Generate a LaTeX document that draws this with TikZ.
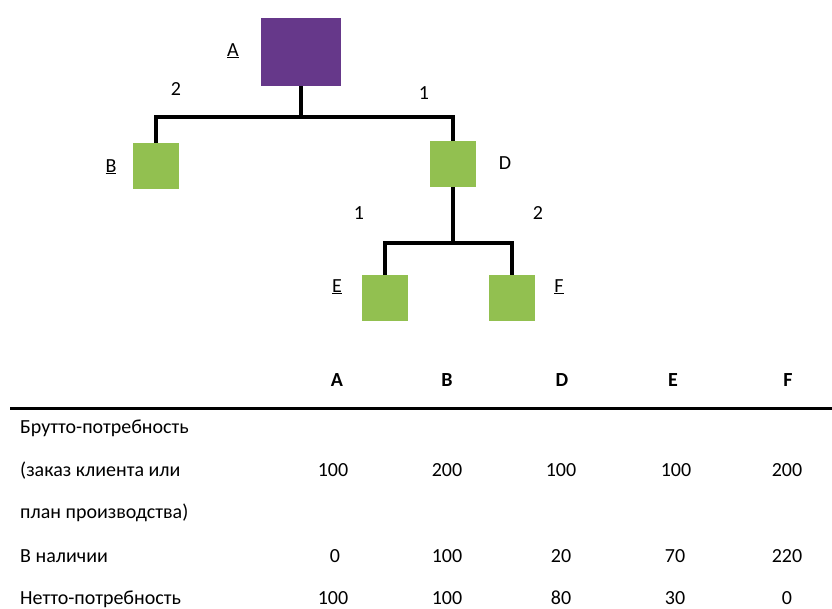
\documentclass[tikz,border=0pt]{standalone}
\usepackage{fontspec}
\setmainfont{Carlito}
\begin{document}
\begin{tikzpicture}[x=1pt,y=-1pt,
  lbl/.style={font=\fontsize{20}{24}\selectfont, inner sep=0pt, anchor=base},
  hdr/.style={font=\fontsize{20}{24}\selectfont\bfseries, inner sep=0pt, anchor=base},
  rowlbl/.style={font=\fontsize{20}{24}\selectfont, inner sep=0pt, anchor=base west},
  link/.style={line width=3.2pt, draw=black},
  greenbox/.style={fill=itemgreen, draw=none, minimum width=46pt, minimum height=46pt, inner sep=0pt},
  purplebox/.style={fill=rootpurple, draw=none, minimum width=80pt, minimum height=68pt, inner sep=0pt}]
\definecolor{itemgreen}{RGB}{146,192,80}
\definecolor{rootpurple}{RGB}{102,56,138}
\useasboundingbox (0,0) rectangle (832,608);
% tree nodes
\node[purplebox] (A) at (301,52) {};
\node[greenbox] (B) at (156,166) {};
\node[greenbox] (D) at (453,164) {};
\node[greenbox] (E) at (385,298) {};
\node[greenbox] (F) at (512,298) {};
\coordinate (j1) at (301,117);
\coordinate (j2) at (453,243);
% connectors
\draw[link] (A.south) -- (j1);
\draw[link] (B.north) |- (j1) -| (D.north);
\draw[link] (D.south) -- (j2);
\draw[link] (E.north) |- (j2) -| (F.north);
% labels (baselines)
\node[lbl] (lA) at (233,56) {\underline{A}};
\node[lbl] (lB) at (111,172) {\underline{B}};
\node[lbl] (lD) at (505,169) {D};
\node[lbl] (lE) at (337,292) {\underline{E}};
\node[lbl] (lF) at (559,292) {\underline{F}};
\node[lbl] (qAB) at (176,95) {2};
\node[lbl] (qAD) at (424,99) {1};
\node[lbl] (qDE) at (359,219) {1};
\node[lbl] (qDF) at (538,219) {2};
% table
\node[hdr] (hA) at (337,386) {A};
\node[hdr] (hB) at (447,386) {B};
\node[hdr] (hD) at (562,386) {D};
\node[hdr] (hE) at (673,386) {E};
\node[hdr] (hF) at (788,386) {F};
\coordinate (r0) at (10,408);
\coordinate (r1) at (832,408);
\draw[line width=3pt] (r0) -- (r1);
\node[rowlbl] (t1) at (20,433) {Брутто-потребность};
\node[rowlbl] (t2) at (20,476) {(заказ клиента или};
\node[rowlbl] (t3) at (20,518) {план производства)};
\node[rowlbl] (t4) at (20,562) {В наличии};
\node[rowlbl] (t5) at (20,604) {Нетто-потребность};
\node[lbl] (gA) at (333,476) {100};
\node[lbl] (gB) at (447,476) {200};
\node[lbl] (gD) at (561,476) {100};
\node[lbl] (gE) at (676,476) {100};
\node[lbl] (gF) at (787,476) {200};
\node[lbl] (sA) at (335,562) {0};
\node[lbl] (sB) at (447,562) {100};
\node[lbl] (sD) at (561,562) {20};
\node[lbl] (sE) at (675,562) {70};
\node[lbl] (sF) at (787,562) {220};
\node[lbl] (nA) at (333,604) {100};
\node[lbl] (nB) at (447,604) {100};
\node[lbl] (nD) at (561,604) {80};
\node[lbl] (nE) at (675,604) {30};
\node[lbl] (nF) at (787,604) {0};
\end{tikzpicture}
\end{document}
